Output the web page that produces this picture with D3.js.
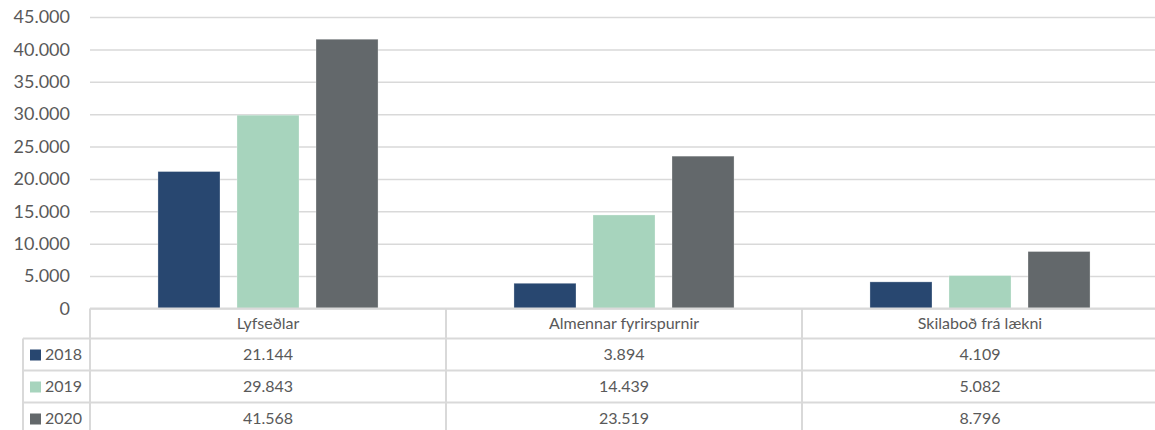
<!DOCTYPE html>
<html>
<head>
<meta charset="utf-8">
<script src="https://cdn.jsdelivr.net/npm/d3@7"></script>
<style>
  body { margin: 0; background: #fff; }
  svg text { font-family: "Lato", "Open Sans", sans-serif; fill: #595959; }
</style>
</head>
<body>
<svg id="chart" width="1155" height="430"></svg>
<script>
// data
const categories = ["Lyfseðlar", "Almennar fyrirspurnir", "Skilaboð frá lækni"];
const years = ["2018", "2019", "2020"];
const values2018 = [21144, 3894, 4109];
const values2019 = [29843, 14439, 5082];
const values2020 = [41568, 23519, 8796];
const yearColors = ["#284770", "#a7d4bd", "#63686b"];

const series = [values2018, values2019, values2020];

const ctx = { w: 1155, h: 430, left: 90, right: 1158, top: 17, base: 308.5,
              headRow: 30, row: 32, legendX: 23, grid: "#d9d9d9" };

const isl = d3.formatLocale({ decimal: ",", thousands: ".", grouping: [3], currency: ["", ""] });
const fmt = isl.format(",d");

const svg = d3.select("#chart");

const y = d3.scaleLinear().domain([0, 45000]).range([ctx.base, ctx.top]);
const x0 = d3.scaleBand().domain(categories).range([ctx.left, ctx.right]).padding(0);
const x1 = d3.scaleBand().domain(years).range([0, x0.bandwidth()])
             .paddingInner(0.215).paddingOuter(0.86);

// gridlines + y labels
let yAxis = svg.append("g")
    .attr("transform", `translate(${ctx.left},0)`)
    .call(d3.axisLeft(y).tickValues(d3.range(0, 45001, 5000))
            .tickSize(-(ctx.w - ctx.left)).tickPadding(20).tickFormat(fmt));
yAxis.select(".domain").remove();
yAxis.selectAll(".tick line").attr("stroke", ctx.grid).attr("stroke-width", 1.5);
yAxis.selectAll(".tick text").style("font-size", "18px").attr("fill", "#595959");

// bars
let groups = svg.selectAll("g.cat")
    .data(categories)
    .enter().append("g")
    .classed("cat", true)
    .attr("transform", d => `translate(${x0(d)},0)`);

groups.selectAll("rect")
    .data((c, i) => years.map((yr, j) => ({ year: yr, value: series[j][i], j: j })))
    .enter().append("rect")
    .attr("x", d => x1(d.year))
    .attr("width", x1.bandwidth())
    .attr("y", d => y(d.value))
    .attr("height", d => ctx.base - y(d.value))
    .attr("fill", d => yearColors[d.j])
    .attr("stroke", "#ffffff").attr("stroke-opacity", 0.35).attr("stroke-width", 0.8);

// data table below the plot
let table = svg.append("g").attr("id", "dataTable");
let rowTops = years.map((yr, j) => ctx.base + ctx.headRow + j * ctx.row);

// horizontal lines
table.append("line")
    .attr("x1", ctx.left).attr("x2", ctx.w).attr("y1", ctx.base).attr("y2", ctx.base)
    .attr("stroke", ctx.grid).attr("stroke-width", 2);
rowTops.forEach(t => {
  table.append("line")
      .attr("x1", ctx.legendX).attr("x2", ctx.w).attr("y1", t).attr("y2", t)
      .attr("stroke", ctx.grid).attr("stroke-width", 2);
});

// vertical lines
categories.forEach(c => {
  table.append("line")
      .attr("x1", x0(c)).attr("x2", x0(c)).attr("y1", ctx.base).attr("y2", ctx.h)
      .attr("stroke", ctx.grid).attr("stroke-width", 2);
});
table.append("line")
    .attr("x1", ctx.legendX).attr("x2", ctx.legendX).attr("y1", rowTops[0]).attr("y2", ctx.h)
    .attr("stroke", ctx.grid).attr("stroke-width", 2);

// category header
table.selectAll("text.head")
    .data(categories).enter().append("text")
    .classed("head", true)
    .attr("x", d => x0(d) + x0.bandwidth() / 2)
    .attr("y", ctx.base + ctx.headRow / 2 + 1)
    .attr("text-anchor", "middle").attr("dominant-baseline", "middle")
    .style("font-size", "16px")
    .text(d => d);

// rows: legend key + values
years.forEach((yr, j) => {
  let cy = rowTops[j] + ctx.row / 2;
  table.append("rect")
      .attr("x", 30).attr("y", cy - 5).attr("width", 11).attr("height", 11)
      .attr("fill", yearColors[j]);
  table.append("text")
      .attr("x", 45).attr("y", cy + 1)
      .attr("dominant-baseline", "middle")
      .style("font-size", "16px")
      .text(yr);
  table.selectAll(null)
      .data(categories).enter().append("text")
      .attr("x", d => x0(d) + x0.bandwidth() / 2)
      .attr("y", cy + 1)
      .attr("text-anchor", "middle").attr("dominant-baseline", "middle")
      .style("font-size", "16px")
      .text((d, i) => fmt(series[j][i]));
});
</script>
</body>
</html>
